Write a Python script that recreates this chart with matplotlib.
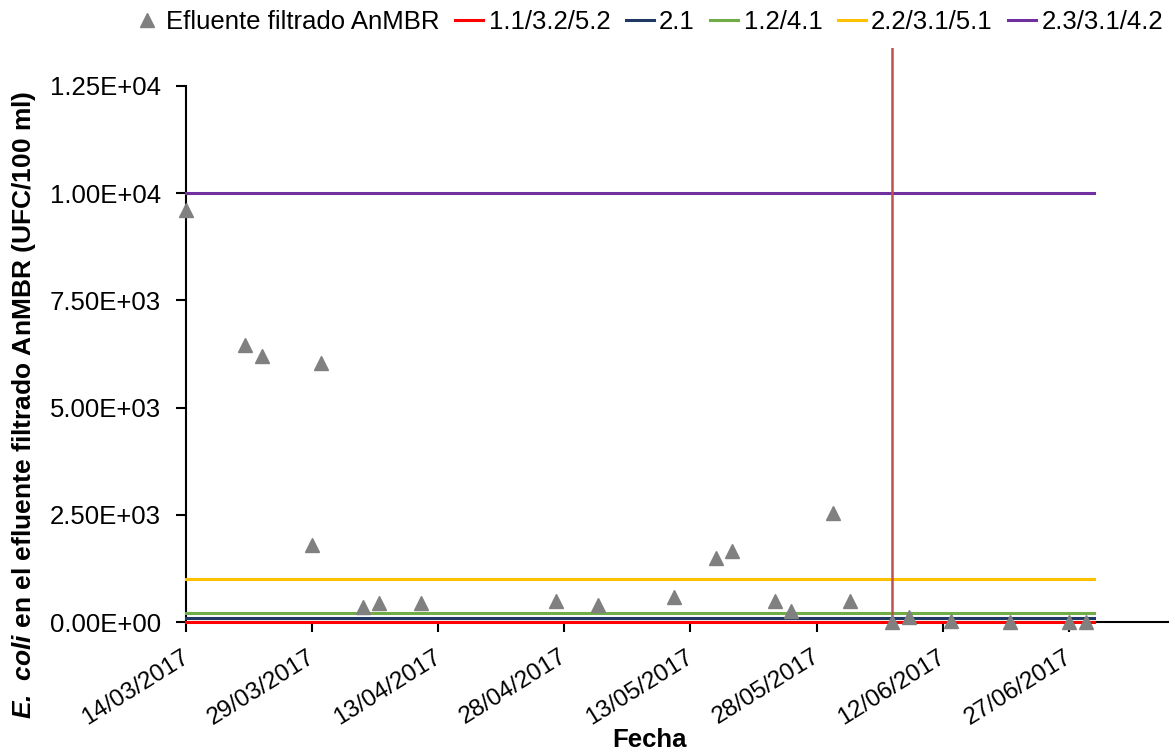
import datetime as dt
import matplotlib
matplotlib.use("Agg")
import matplotlib.pyplot as plt
import matplotlib.dates as mdates
import matplotlib.transforms as mtrans
from matplotlib.ticker import FuncFormatter, FixedLocator

plt.rcParams['font.family'] = ['Liberation Sans', 'DejaVu Sans']
plt.rcParams['mathtext.fontset'] = 'custom'
plt.rcParams['mathtext.bfit'] = 'Liberation Sans:bold:italic'

# muestras del efluente filtrado
fechas = ["14/03/2017", "21/03/2017", "23/03/2017", "29/03/2017", "30/03/2017",
          "04/04/2017", "06/04/2017", "11/04/2017", "27/04/2017", "02/05/2017",
          "11/05/2017", "16/05/2017", "18/05/2017", "23/05/2017", "25/05/2017",
          "30/05/2017", "01/06/2017", "06/06/2017", "08/06/2017", "13/06/2017",
          "20/06/2017", "27/06/2017", "29/06/2017"]
ecoli = [9600, 6450, 6200, 1800, 6050,
         350, 450, 450, 500, 400,
         580, 1500, 1650, 500, 250,
         2550, 500, 0, 120, 20,
         10, 10, 10]

# limites de calidad (RD 1620/2007)
limites_nombres = ["1.1/3.2/5.2", "2.1", "1.2/4.1", "2.2/3.1/5.1", "2.3/3.1/4.2"]
limites_valores = [0, 100, 200, 1000, 10000]
limites_colores = ["#FF0000", "#1F3864", "#70AD47", "#FFC000", "#7030A0"]
limite_inicio = "14/03/2017"
limite_fin = "30/06/2017"
fecha_cambio = "06/06/2017"

def d(s):
    return dt.datetime.strptime(s, "%d/%m/%Y")

x = [d(f) for f in fechas]

fig = plt.figure(figsize=(11.75, 7.52), dpi=100)
ax = fig.add_axes([186/1175, 1 - 622/752, (1168-186)/1175, (622-48)/752])

ax.plot(x, ecoli, linestyle='none', marker='^', color='#808080', markersize=10,
        label='Efluente filtrado AnMBR', zorder=5, clip_on=False)

for nombre, val, col in zip(limites_nombres, limites_valores, limites_colores):
    ax.plot([d(limite_inicio), d(limite_fin)], [val, val], color=col, lw=2.2,
            label=nombre, clip_on=False, zorder=3)

ax.axvline(d(fecha_cambio), color='#C0504D', lw=1.8, zorder=4)

ax.set_xlim(d("14/03/2017"), d("14/03/2017") + dt.timedelta(days=116.8))
ax.set_ylim(0, 13386)

ticks = [d("14/03/2017") + dt.timedelta(days=15 * i) for i in range(8)]
ax.xaxis.set_major_locator(FixedLocator(mdates.date2num(ticks)))
ax.xaxis.set_major_formatter(mdates.DateFormatter("%d/%m/%Y"))
ax.set_yticks([0, 2500, 5000, 7500, 10000, 12500])
ax.yaxis.set_major_formatter(FuncFormatter(lambda v, p: f"{v:.2E}"))

for s in ['top', 'right']:
    ax.spines[s].set_visible(False)
ax.spines['left'].set_bounds(0, 12500)
ax.spines['left'].set_linewidth(1.5)
ax.spines['bottom'].set_linewidth(1.5)
ax.tick_params(axis='both', direction='out', length=7, width=1.5, labelsize=18.5)
ax.tick_params(axis='y', pad=11)
ax.tick_params(axis='x', pad=10, labelsize=17.5)
off = mtrans.ScaledTranslation(-5/100, 0, fig.dpi_scale_trans)
for lab in ax.get_xticklabels():
    lab.set_rotation(32)
    lab.set_ha('right')
    lab.set_rotation_mode('anchor')
    lab.set_transform(lab.get_transform() + off)

ax.set_xlabel("Fecha", fontsize=18.5, fontweight='bold')
ax.xaxis.set_label_coords((650-186)/982, -(740-622)/574)
ax.xaxis.label.set_va('center')
ax.set_ylabel(r"$\mathbfit{E.\ coli}$ en el efluente filtrado AnMBR (UFC/100 ml)",
              fontsize=19, fontweight='bold')
ax.yaxis.set_label_coords(-(186-24)/982, (622-405)/574)
ax.yaxis.label.set_va('center')

ax.legend(loc='center', bbox_to_anchor=(648/1175, 1 - 22/752),
          bbox_transform=fig.transFigure, ncol=6, frameon=False, fontsize=18.5,
          handlelength=1.1, handletextpad=0.2, columnspacing=0.6, borderpad=0)

fig.savefig("out.png", dpi=100)
